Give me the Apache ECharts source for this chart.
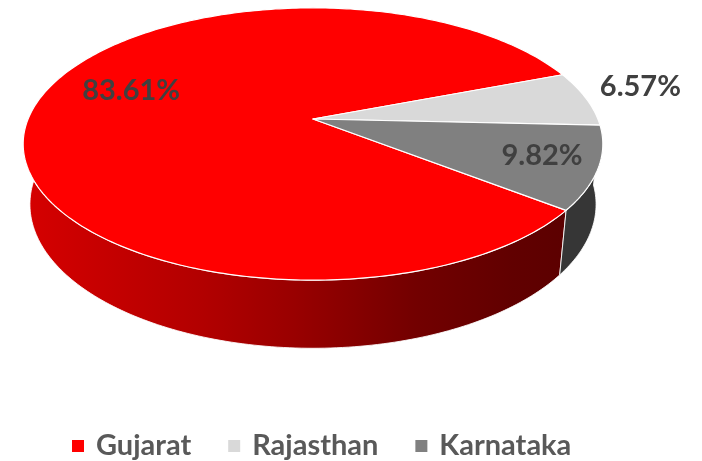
<!DOCTYPE html>
<html>
<head>
<meta charset="utf-8">
<style>
html, body { margin: 0; padding: 0; background: #fff; }
#chart { width: 702px; height: 461px; }
</style>
<script src="https://cdn.jsdelivr.net/npm/echarts@6/dist/echarts.min.js"></script>
</head>
<body>
<div id="chart"></div>
<script>
// 数据
const states = ['Gujarat', 'Rajasthan', 'Karnataka'];
const shares = [83.61, 6.57, 9.82];

// 颜色: 顶面 / 侧面
const topColors = ['#ff0000', '#d9d9d9', '#808080'];
const sideColors = [
    {
        type: 'linear', x: 0, y: 0, x2: 1, y2: 0,
        colorStops: [
            { offset: 0, color: '#d60000' },
            { offset: 0.33, color: '#b20000' },
            { offset: 0.5, color: '#990000' },
            { offset: 0.72, color: '#730000' },
            { offset: 0.9, color: '#610000' },
            { offset: 1, color: '#5c0000' }
        ]
    },
    '#a6a6a6',
    '#363636'
];

// 透视参数 (角度顺时针, 0 = 右)
const view = { cx: 313, cy: 119, k: 1376, dist: 4.83, tilt: 27.5, thick: 0.241, startAngle: 38 };
// 标签位置 [角度, 半径]
const labelSpots = [[198.4, 0.70], [-12, 1.23], [19.3, 0.81]];

const total = shares.reduce((s, v) => s + v, 0);
const ranges = [];
let acc = view.startAngle;
shares.forEach(v => {
    const span = v / total * 360;
    ranges.push([acc, acc + span]);
    acc += span;
});

function project (r, deg, y) {
    const t = deg * Math.PI / 180, phi = view.tilt * Math.PI / 180;
    const x = r * Math.cos(t), z = r * Math.sin(t);
    const depth = view.dist - y * Math.sin(phi) - z * Math.cos(phi);
    const up = y * Math.cos(phi) - z * Math.sin(phi);
    return [view.cx + view.k * x / depth, view.cy - view.k * up / depth];
}

function arc (a, b, y) {
    const pts = [];
    const n = Math.max(2, Math.ceil(Math.abs(b - a)));
    for (let j = 0; j <= n; j++) {
        pts.push(project(1, a + (b - a) * j / n, y));
    }
    return pts;
}

function renderSlice (params) {
    const i = params.seriesIndex;
    const [a, b] = ranges[i];
    const children = [];

    // 侧面 (只画前半圈)
    [0, 360].forEach(off => {
        const lo = Math.max(a, off), hi = Math.min(b, off + 180);
        if (hi <= lo) {
            return;
        }
        const pts = arc(lo, hi, 0).concat(arc(hi, lo, -view.thick));
        children.push({
            type: 'polygon',
            z2: 1,
            shape: { points: pts },
            style: { fill: sideColors[i], stroke: 'rgba(255,255,255,0.85)', lineWidth: 1 }
        });
    });

    // 顶面
    children.push({
        type: 'polygon',
        z2: 10,
        shape: { points: [project(0, 0, 0)].concat(arc(a, b, 0)) },
        style: { fill: topColors[i], stroke: '#ffffff', lineWidth: 1.2, lineJoin: 'round' }
    });

    // 标签
    const p = project(labelSpots[i][1], labelSpots[i][0], 0);
    children.push({
        type: 'text',
        z2: 20,
        x: p[0],
        y: p[1],
        style: {
            text: shares[i].toFixed(2) + '%',
            fill: '#404040',
            font: 'bold 29px Lato',
            align: 'center',
            verticalAlign: 'middle'
        }
    });

    return { type: 'group', children };
}

const chart = echarts.init(document.getElementById('chart'));
chart.setOption({
    animation: false,
    legend: {
        left: 67,
        top: 425,
        icon: 'rect',
        itemWidth: 12,
        itemHeight: 12,
        itemGap: 37,
        textStyle: {
            fontFamily: 'Lato',
            fontWeight: 'bold',
            fontSize: 29,
            lineHeight: 32,
            color: '#595959',
            padding: [0, 0, 0, 7]
        }
    },
    series: states.map((name, i) => ({
        type: 'custom',
        name,
        coordinateSystem: 'none',
        silent: true,
        itemStyle: { color: topColors[i] },
        data: [[shares[i]]],
        renderItem: renderSlice
    }))
});
</script>
</body>
</html>
